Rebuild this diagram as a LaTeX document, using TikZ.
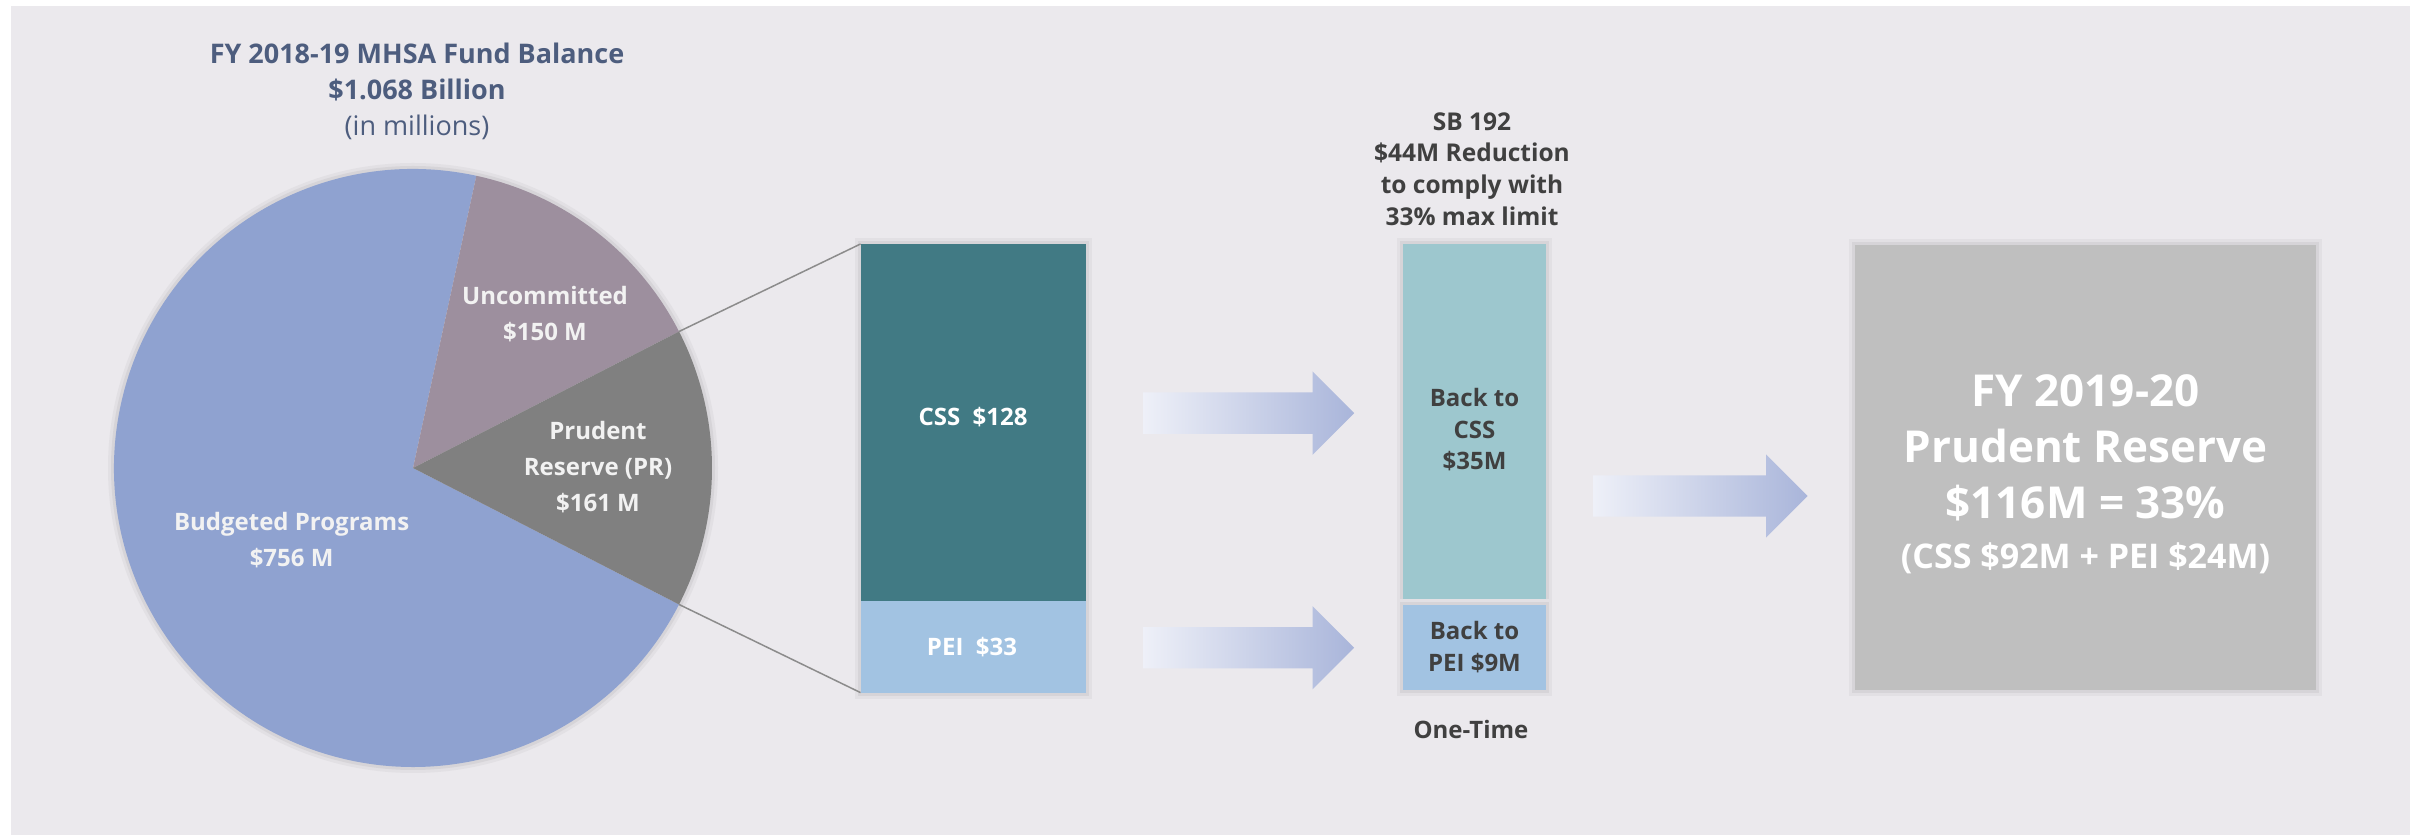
\documentclass[tikz,border=0pt]{standalone}
\usepackage{fontspec}
\setmainfont{Open Sans}
\usetikzlibrary{shapes.arrows}

\definecolor{bgcol}{HTML}{EBE9ED}
\definecolor{budgetcol}{HTML}{8FA2D0}
\definecolor{uncomcol}{HTML}{9D8F9E}
\definecolor{prcol}{HTML}{808080}
\definecolor{csscol}{HTML}{417A84}
\definecolor{peicol}{HTML}{A2C3E2}
\definecolor{backcsscol}{HTML}{9DC7CE}
\definecolor{finalcol}{HTML}{BFBFBF}
\definecolor{titlecol}{HTML}{4D5D7E}
\definecolor{darktext}{HTML}{404040}
\definecolor{arrowlight}{HTML}{EEF0F8}
\definecolor{arrowdark}{HTML}{A9B5DA}

\tikzset{
  bar/.style={rectangle, inner sep=0pt, outer sep=0pt},
  glow/.style={preaction={draw=bgcol!96!black, line width=12pt}, preaction={draw=bgcol!91!black, line width=6pt}},
  lab/.style={align=center, inner sep=0pt, font=\bfseries\fontsize{24}{31.6}\selectfont},
  pielab/.style={lab, text=white!95!black, font=\bfseries\fontsize{24}{36}\selectfont},
  zoomline/.style={draw=black!45, line width=1.5pt},
  fatarrow/.style={single arrow, draw=none, inner xsep=0pt, inner ysep=20.5pt, anchor=tail,
    single arrow head extend=21pt, left color=arrowlight, right color=arrowdark},
}

\begin{document}
\begin{tikzpicture}[x=1pt,y=1pt]
\useasboundingbox (0,0) rectangle (2412,835);
\fill[white] (0,0) rectangle (2412,835);
\fill[bgcol] (11,0) rectangle (2410,829);

% pie of the fund balance
\coordinate (pie) at (413,367);
\path[glow] (pie) circle[radius=299];
\fill[budgetcol] (pie) -- ++(77.77:299) arc[start angle=77.77, end angle=332.84, radius=299] -- cycle;
\fill[uncomcol] (pie) -- ++(27.16:299) arc[start angle=27.16, end angle=77.77, radius=299] -- cycle;
\fill[prcol] (pie) -- ++(-27.16:299) arc[start angle=-27.16, end angle=27.16, radius=299] -- cycle;
\coordinate (prtop) at ([shift={(27.16:299)}]pie);
\coordinate (prbot) at ([shift={(-27.16:299)}]pie);

\node[lab, text=titlecol, font=\bfseries\fontsize{27}{36}\selectfont] (title) at (417,743.4)
  {FY 2018-19 MHSA Fund Balance\\\$1.068 Billion\\{\mdseries (in millions)}};
\node[pielab] (uncom) at (545,521) {Uncommitted\\\$150 M};
\node[pielab] (prlab) at (598,368) {Prudent\\Reserve (PR)\\\$161 M};
\node[pielab] (budget) at (291.6,295.4) {Budgeted Programs\\\$756 M};

% prudent reserve split
\path[glow] (860.5,142.4) rectangle (1085.5,591);
\node[bar, fill=csscol, minimum width=225pt, minimum height=357pt] (css) at (973,412.5) {};
\node[bar, fill=peicol, minimum width=225pt, minimum height=91.6pt] (pei) at (973,188.2) {};
\node[lab, text=white] (csslab) at (973,418) {CSS\ \ \$128};
\node[lab, text=white] (peilab) at (972,188) {PEI\ \ \$33};
\draw[zoomline] (prtop) -- (css.north west);
\draw[zoomline] (prbot) -- (pei.south west);

% SB 192 reduction
\node[lab, text=darktext, font=\bfseries\fontsize{24.5}{31.6}\selectfont] (sb) at (1472,666)
  {SB 192\\\$44M Reduction\\to comply with\\33\% max limit};
\node[bar, glow, fill=backcsscol, minimum width=143pt, minimum height=355pt] (backcss) at (1474.5,413.5) {};
\node[bar, glow, fill=peicol, minimum width=143pt, minimum height=84.5pt] (backpei) at (1474.5,187.25) {};
\node[lab, text=darktext] (backcsslab) at (1474.5,405.4) {Back to\\CSS\\\$35M};
\node[lab, text=darktext] (backpeilab) at (1474.5,188) {Back to\\PEI \$9M};
\node[lab, text=darktext] (onetime) at (1471,105) {One-Time};

% resulting reserve
\node[bar, glow, fill=finalcol, minimum width=461pt, minimum height=445pt] (final) at (2085.5,367.5) {};
\node[lab, text=white, font=\bfseries\fontsize{44}{56}\selectfont] (finallab) at (2085.5,361)
  {FY 2019-20\\Prudent Reserve\\\$116M = 33\%\\[-6pt]{\fontsize{34}{40}\selectfont (CSS \$92M + PEI \$24M)}};

\node[fatarrow, minimum height=211pt] (arrcss) at (1143,421.85) {};
\node[fatarrow, minimum height=211pt] (arrpei) at (1143,187.25) {};
\node[fatarrow, minimum height=214.5pt] (arrfinal) at (1593,339) {};
\end{tikzpicture}
\end{document}
